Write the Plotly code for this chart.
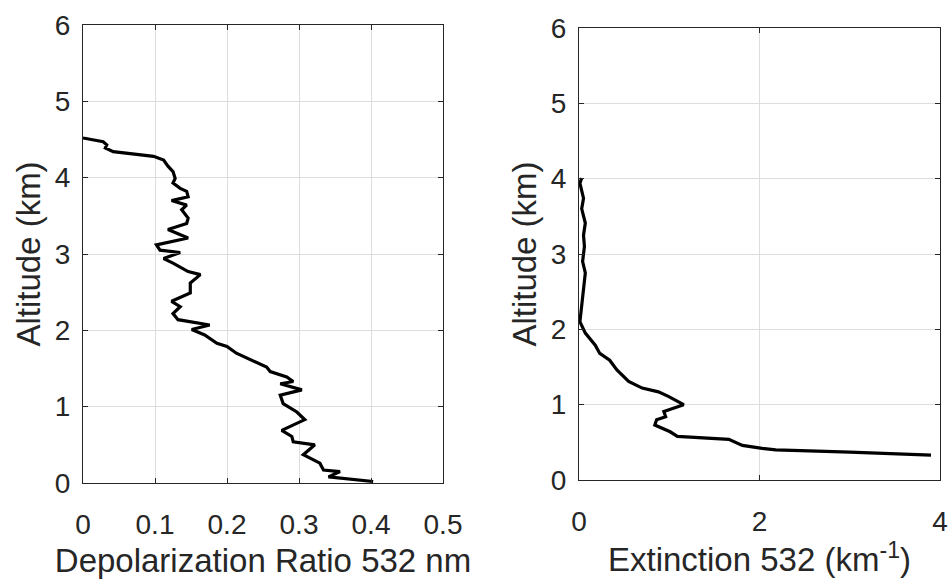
import plotly.graph_objects as go
from plotly.subplots import make_subplots

# Left panel: depolarization ratio vs altitude
depol = [0.000, 0.028, 0.033, 0.031, 0.042, 0.070, 0.098, 0.112, 0.118, 0.125,
         0.128, 0.125, 0.135, 0.144, 0.146, 0.123, 0.144, 0.137, 0.146, 0.144,
         0.118, 0.146, 0.102, 0.107, 0.135, 0.112, 0.125, 0.146, 0.163, 0.149,
         0.149, 0.123, 0.135, 0.125, 0.132, 0.176, 0.151, 0.169, 0.186, 0.200,
         0.213, 0.255, 0.260, 0.283, 0.292, 0.274, 0.304, 0.274, 0.278, 0.297,
         0.308, 0.276, 0.290, 0.292, 0.322, 0.306, 0.329, 0.334, 0.357, 0.341,
         0.403]
alt_depol = [4.52, 4.47, 4.43, 4.39, 4.34, 4.31, 4.28, 4.23, 4.15, 4.08,
             3.99, 3.93, 3.86, 3.82, 3.75, 3.70, 3.64, 3.58, 3.47, 3.40,
             3.32, 3.21, 3.12, 3.05, 3.02, 2.94, 2.88, 2.77, 2.73, 2.62,
             2.49, 2.38, 2.31, 2.22, 2.14, 2.07, 2.01, 1.94, 1.83, 1.79,
             1.70, 1.52, 1.46, 1.39, 1.33, 1.30, 1.22, 1.15, 1.04, 0.93,
             0.83, 0.69, 0.61, 0.54, 0.50, 0.37, 0.26, 0.17, 0.15, 0.08,
             0.02]

# Right panel: extinction vs altitude
ext = [0.03, 0.01, 0.05, 0.03, 0.07, 0.05, 0.06, 0.04, 0.07, 0.05,
       0.04, 0.01, 0.07, 0.18, 0.23, 0.34, 0.42, 0.55, 0.70, 0.88,
       0.99, 1.16, 0.94, 0.96, 0.86, 0.84, 1.01, 1.09, 1.66, 1.81,
       2.03, 2.18, 3.00, 3.90]
alt_ext = [4.01, 3.94, 3.74, 3.60, 3.41, 3.25, 3.10, 2.90, 2.75, 2.55,
           2.44, 2.10, 1.95, 1.79, 1.68, 1.59, 1.46, 1.31, 1.22, 1.17,
           1.11, 1.00, 0.91, 0.84, 0.80, 0.73, 0.64, 0.58, 0.54, 0.46,
           0.42, 0.40, 0.37, 0.33]

left_xticks = [0, 0.1, 0.2, 0.3, 0.4, 0.5]
left_xlabels = ["0", "0.1", "0.2", "0.3", "0.4", "0.5"]
right_xticks = [0, 2, 4]
yticks = [0, 1, 2, 3, 4, 5, 6]

FONT = "Arial, Liberation Sans, Helvetica, sans-serif"
AXC = "#262626"
GRID = "#dedede"
TICK_SIZE = 28
TITLE_SIZE = 33

fig = make_subplots(rows=1, cols=2)
fig.add_trace(go.Scatter(x=depol, y=alt_depol, mode="lines",
                         line=dict(color="black", width=3.2, shape="linear"),
                         showlegend=False), 1, 1)
fig.add_trace(go.Scatter(x=ext, y=alt_ext, mode="lines",
                         line=dict(color="black", width=3.2), showlegend=False), 1, 2)

common_axis = dict(showline=True, linecolor=AXC, linewidth=1, mirror="ticks",
                   ticks="inside", ticklen=5, tickcolor=AXC, automargin=False,
                   showgrid=True, gridcolor=GRID, gridwidth=1, zeroline=False,
                   tickfont=dict(family=FONT, size=TICK_SIZE, color=AXC))

fig.update_xaxes(**common_axis)
fig.update_yaxes(**common_axis)

title_font = dict(family=FONT, size=TITLE_SIZE, color=AXC)

fig.update_layout(
    width=951, height=579,
    margin=dict(l=0, r=0, t=0, b=0, autoexpand=False),
    paper_bgcolor="white", plot_bgcolor="white",
    font=dict(family=FONT, color=AXC),
    xaxis=dict(domain=[83/951, 443/951], range=[0, 0.5],
               tickvals=left_xticks, ticktext=left_xlabels, ticklabelstandoff=16,
               title=dict(text="Depolarization Ratio 532 nm", font=title_font, standoff=12)),
    yaxis=dict(domain=[(579-483)/579, (579-25)/579], range=[0, 6], tickvals=yticks,
               ticklabelstandoff=6,
               title=dict(text="Altitude (km)", font=title_font, standoff=4)),
    xaxis2=dict(domain=[579/951, 940/951], range=[0, 4], tickvals=right_xticks,
                ticklabelstandoff=16,
                title=dict(text="Extinction 532 (km<sup>-1</sup>)", font=title_font, standoff=12)),
    yaxis2=dict(domain=[(579-480)/579, (579-28)/579], range=[0, 6], tickvals=yticks,
                ticklabelstandoff=6,
                title=dict(text="Altitude (km)", font=title_font, standoff=4)),
)

fig.write_html("out.html")
